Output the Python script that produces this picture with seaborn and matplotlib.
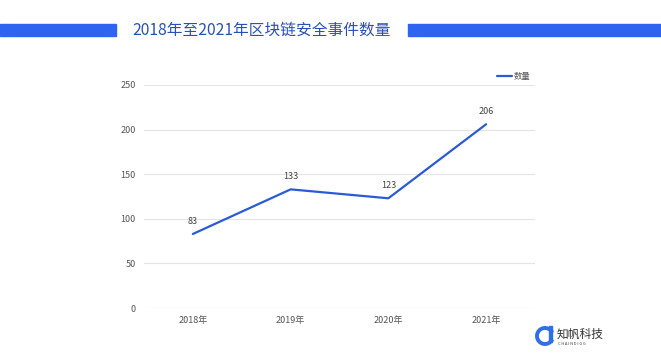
import matplotlib
matplotlib.use("Agg")
import matplotlib.pyplot as plt
import seaborn as sns
import pandas as pd
from matplotlib.patches import Rectangle, Arc

years = ["2018年", "2019年", "2020年", "2021年"]
counts = [83, 133, 123, 206]
series_name = "数量"
title = "2018年至2021年区块链安全事件数量"
y_ticks = [0, 50, 100, 150, 200, 250]

sns.set_theme(style="white")
plt.rcParams['font.family'] = ['Noto Sans CJK SC', 'DejaVu Sans']

df = pd.DataFrame({"year": years, "count": counts, "series": series_name})

W, H = 661, 363
fig = plt.figure(figsize=(W / 100, H / 100), dpi=100)
ax = fig.add_axes([144 / W, 1 - 308 / H, (535 - 144) / W, (308 - 85) / H])

line_color = "#2a5bd6"
sns.lineplot(data=df, x="year", y="count", hue="series", palette=[line_color],
             linewidth=1.6, ax=ax, sort=False)

ax.set_xlim(-0.5, len(years) - 0.5)
ax.set_ylim(0, 250)
ax.set_yticks(y_ticks)
ax.set_yticklabels([str(v) for v in y_ticks])
ax.set_xlabel("")
ax.set_ylabel("")
for s in ax.spines.values():
    s.set_visible(False)
ax.grid(axis="y", color="#e4e4e4", linewidth=0.8)
ax.grid(axis="x", visible=False)
ax.tick_params(axis="both", length=0, labelsize=6.5, colors="#555555")
ax.tick_params(axis="y", pad=6)
ax.tick_params(axis="x", pad=6)

for i, v in enumerate(counts):
    ax.annotate(str(v), (i, v), xytext=(0, 6), textcoords="offset points",
                ha="center", va="bottom", fontsize=6.5, color="#444444")

leg = ax.legend(loc="lower right", bbox_to_anchor=(1.0, 1.0), frameon=False,
                fontsize=6, handlelength=1.8, handletextpad=0.3,
                borderaxespad=0.1, labelcolor="#555555")

# Title with side bars
bar_color = "#2f64f0"
fig.patches.append(Rectangle((0, 1 - 36 / H), 116 / W, 12 / H,
                             transform=fig.transFigure, color=bar_color, zorder=0))
fig.patches.append(Rectangle((408 / W, 1 - 36 / H), (W - 408) / W, 12 / H,
                             transform=fig.transFigure, color=bar_color, zorder=0))
fig.text(262 / W, 1 - 30 / H, title, ha="center", va="center",
         fontsize=11.3, color="#2a4fb8", fontweight="medium")

# Logo
lc = "#2f6fe8"
fig.patches.append(Arc((545 / W, 1 - 336 / H), 16 / W, 16 / H, theta1=40, theta2=320,
                       transform=fig.transFigure, color=lc, linewidth=2.8))
fig.patches.append(Rectangle((549 / W, 1 - 342 / H), 3.2 / W, 16 / H,
                             transform=fig.transFigure, color=lc))
fig.text(557 / W, 1 - 334 / H, "知帆科技", ha="left", va="center",
         fontsize=8.5, color="#333333")
fig.text(558 / W, 1 - 344 / H, "C H A I N D I G G", ha="left", va="center",
         fontsize=2.8, color="#333333")

fig.savefig("out.png", dpi=100)
